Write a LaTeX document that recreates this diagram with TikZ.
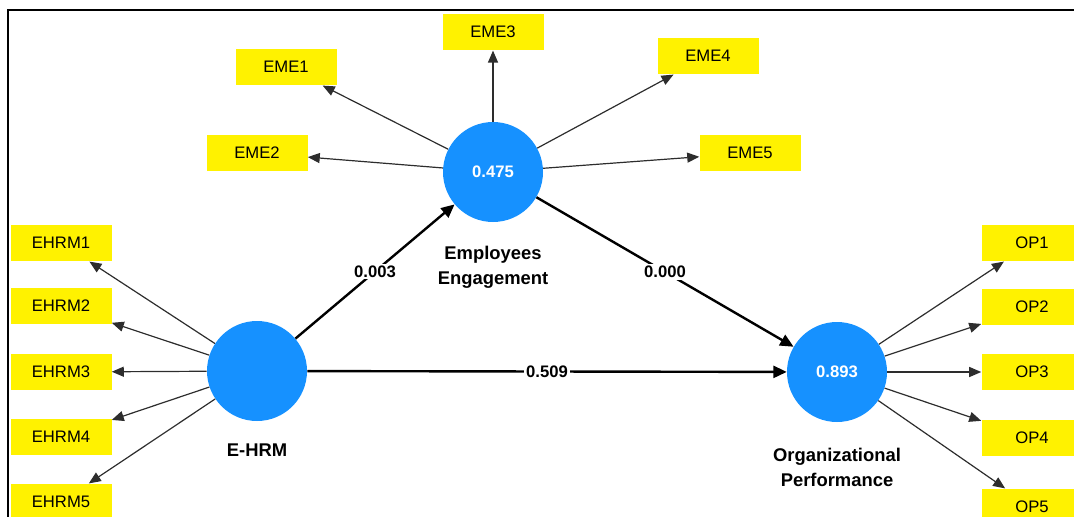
\documentclass[tikz,border=0pt]{standalone}
\usepackage{fontspec}
\setmainfont{Liberation Sans}
\usepackage{xcolor}
\usepackage{tikz}
\usetikzlibrary{arrows.meta, positioning}
\definecolor{lvblue}{RGB}{22,145,255}
\definecolor{loadgray}{RGB}{45,45,45}
\tikzstyle{latent} = [circle, fill=lvblue, minimum size=75pt, inner sep=0pt, text=white, font=\fontsize{12.5}{15}\selectfont\bfseries]
\tikzstyle{indicator} = [rectangle, fill=yellow, minimum width=75.75pt, minimum height=27.5pt, inner sep=0pt, font=\fontsize{12.5}{15}\selectfont]
\tikzstyle{lvname} = [align=center, inner sep=2pt, font=\fontsize{13.8}{18.7}\selectfont\bfseries]
\tikzstyle{loading} = [draw=loadgray, line width=0.9pt, -{Triangle[length=9pt,width=7.5pt]}]
\tikzstyle{structural} = [line width=1.8pt, -{Triangle[length=10pt,width=9pt]}]
\tikzstyle{coef} = [fill=white, inner sep=1.5pt, font=\fontsize{12.5}{15}\selectfont\bfseries]

\begin{document}
\begin{tikzpicture}[x=0.75pt, y=-0.75pt]
    \clip (0,0) rectangle (1074,517);
    % Frame
    \draw[line width=1.8pt] (8,540) -- (8,10) -- (1100,10);

    % Latent variables
    \node[latent] (eme) at (493,172) {0.475};
    \node[latent] (ehrm) at (257,371) {};
    \node[latent] (op) at (837,372) {0.893};
    \node[lvname, below=16pt of eme] (emename) {Employees\\Engagement};
    \node[lvname, below=15pt of ehrm] (ehrmname) {E-HRM};
    \node[lvname, below=17pt of op] (opname) {Organizational\\Performance};

    % Indicators
    \node[indicator] (eme1) at (286,67) {EME1};
    \node[indicator] (eme2) at (257,153) {EME2};
    \node[indicator] (eme3) at (493,32) {EME3};
    \node[indicator] (eme4) at (708,56) {EME4};
    \node[indicator] (eme5) at (750,153) {EME5};

    \node[indicator] (ehrm1) at (61,243) {EHRM1};
    \node[indicator] (ehrm2) at (61,306) {EHRM2};
    \node[indicator] (ehrm3) at (61,372) {EHRM3};
    \node[indicator] (ehrm4) at (61,437) {EHRM4};
    \node[indicator] (ehrm5) at (61,502) {EHRM5};

    \node[indicator] (op1) at (1032,243) {OP1};
    \node[indicator] (op2) at (1032,307) {OP2};
    \node[indicator] (op3) at (1032,372) {OP3};
    \node[indicator] (op4) at (1032,438) {OP4};
    \node[indicator] (op5) at (1032,507) {OP5};

    % Loadings
    \draw[loading] (eme) -- (eme1);
    \draw[loading] (eme) -- (eme2);
    \draw[loading] (eme) -- (eme3);
    \draw[loading] (eme) -- (eme4);
    \draw[loading] (eme) -- (eme5);

    \draw[loading] (ehrm) -- (ehrm1);
    \draw[loading] (ehrm) -- (ehrm2);
    \draw[loading] (ehrm) -- (ehrm3);
    \draw[loading] (ehrm) -- (ehrm4);
    \draw[loading] (ehrm) -- (ehrm5);

    \draw[loading] (op) -- (op1);
    \draw[loading] (op) -- (op2);
    \draw[loading] (op) -- (op3);
    \draw[loading] (op) -- (op4);
    \draw[loading] (op) -- (op5);

    % Structural paths
    \draw[structural] (ehrm) -- node[coef] {0.003} (eme);
    \draw[structural] (eme) -- node[coef] {0.000} (op);
    \draw[structural] (ehrm) -- node[coef] {0.509} (op);
\end{tikzpicture}
\end{document}
